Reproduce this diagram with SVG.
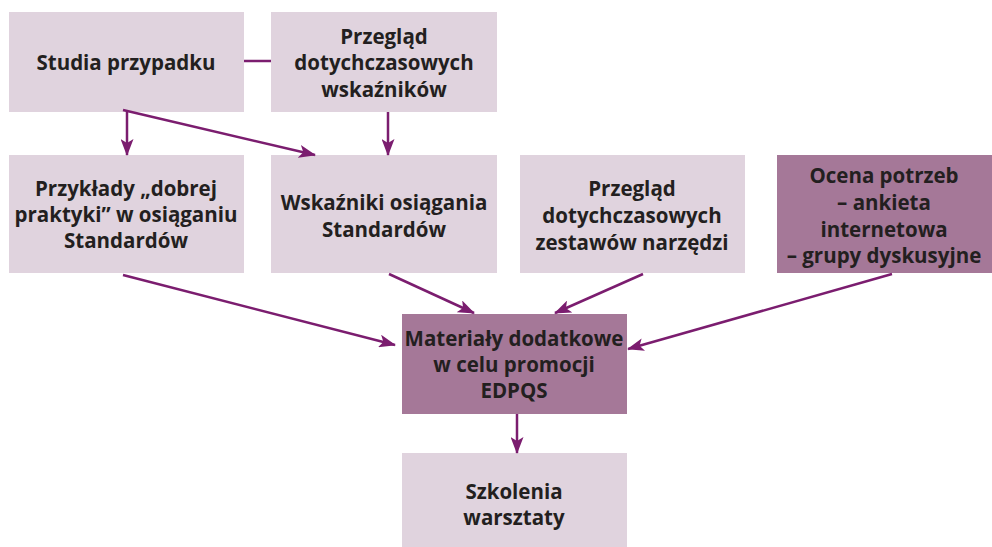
<svg xmlns="http://www.w3.org/2000/svg" width="992" height="547" viewBox="0 0 992 547">
<style>
.l{fill:#e0d3de}
.d{fill:#a57898}
text{font-family:"Open Sans","Liberation Sans",sans-serif;font-weight:700;font-size:20.5px;fill:#231f20;text-anchor:middle}
.c{stroke:#7b1d6f;stroke-width:2.5;fill:none}
</style>
<defs>
<marker id="m" markerWidth="17" markerHeight="13" refX="16" refY="6.5" orient="auto" markerUnits="userSpaceOnUse">
<path d="M0,0 L17,6.5 L0,13 L4,6.5 Z" fill="#7b1d6f"/>
</marker>
</defs>
<g id="studia"><rect class="l" x="9" y="12" width="235" height="100"/><text x="126" y="70">Studia przypadku</text></g>
<g id="przeglad-wsk"><rect class="l" x="271" y="12" width="226" height="100"/><text x="384" y="44">Przegląd</text><text x="384" y="70">dotychczasowych</text><text x="384" y="97">wskaźników</text></g>
<g id="przyklady"><rect class="l" x="9" y="155" width="235" height="118"/><text x="126" y="196">Przykłady „dobrej</text><text x="126" y="222">praktyki” w osiąganiu</text><text x="126" y="248">Standardów</text></g>
<g id="wskazniki"><rect class="l" x="271" y="155" width="226" height="118"/><text x="384" y="210">Wskaźniki osiągania</text><text x="384" y="237">Standardów</text></g>
<g id="przeglad-zest"><rect class="l" x="520" y="155" width="225" height="118"/><text x="632" y="196">Przegląd</text><text x="632" y="223">dotychczasowych</text><text x="632" y="250">zestawów narzędzi</text></g>
<g id="ocena"><rect class="d" x="777" y="155" width="215" height="118"/><text x="884" y="183">Ocena potrzeb</text><text x="884" y="210">– ankieta</text><text x="884" y="237">internetowa</text><text x="884" y="263">– grupy dyskusyjne</text></g>
<g id="materialy"><rect class="d" x="402" y="314" width="225" height="100"/><text x="514" y="346">Materiały dodatkowe</text><text x="514" y="372">w celu promocji</text><text x="514" y="398">EDPQS</text></g>
<g id="szkolenia"><rect class="l" x="402" y="453" width="225" height="94"/><text x="514" y="499">Szkolenia</text><text x="514" y="525">warsztaty</text></g>
<g id="connectors">
<line class="c" x1="244" y1="61" x2="271" y2="61"/>
<line class="c" x1="127" y1="112" x2="127" y2="155" marker-end="url(#m)"/>
<line class="c" x1="123" y1="110" x2="315" y2="155" marker-end="url(#m)"/>
<line class="c" x1="388" y1="112" x2="388" y2="155" marker-end="url(#m)"/>
<line class="c" x1="123" y1="275" x2="395" y2="345" marker-end="url(#m)"/>
<line class="c" x1="389" y1="274" x2="474" y2="313" marker-end="url(#m)"/>
<line class="c" x1="643" y1="274" x2="555" y2="313" marker-end="url(#m)"/>
<line class="c" x1="892" y1="274" x2="628" y2="349" marker-end="url(#m)"/>
<line class="c" x1="517" y1="414" x2="517" y2="453" marker-end="url(#m)"/>
</g>
</svg>
